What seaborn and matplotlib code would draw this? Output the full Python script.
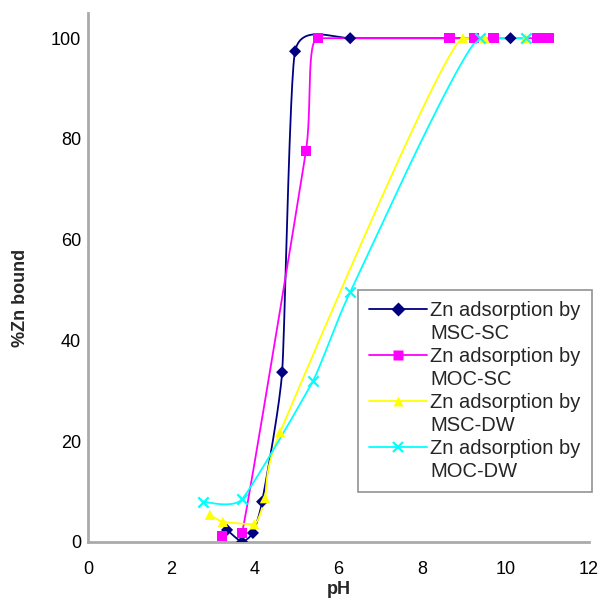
import numpy as np
import pandas as pd
import matplotlib
matplotlib.use("Agg")
import matplotlib.pyplot as plt
import seaborn as sns
from matplotlib.lines import Line2D

# --- Data ---
msc_sc_ph = [3.33, 3.69, 3.95, 4.17, 4.65, 4.96, 6.28, 10.12]
msc_sc_zn = [2.4, 0.0, 1.8, 8.0, 33.7, 97.4, 100, 100]

moc_sc_ph = [3.21, 3.69, 5.22, 5.51, 8.66, 9.25, 9.71, 10.77, 11.03]
moc_sc_zn = [1.2, 1.8, 77.6, 100, 100, 100, 100, 100, 100]

msc_dw_ph = [2.92, 3.23, 3.98, 4.24, 4.60, 8.98, 9.50, 10.48]
msc_dw_zn = [5.4, 4.0, 3.5, 8.7, 21.8, 100, 100, 100]

moc_dw_ph = [2.75, 3.69, 5.39, 6.28, 9.39, 10.50]
moc_dw_zn = [8.0, 8.5, 32.0, 49.6, 100, 100]

labels = ["Zn adsorption by\nMSC-SC", "Zn adsorption by\nMOC-SC",
          "Zn adsorption by\nMSC-DW", "Zn adsorption by\nMOC-DW"]
colors = ["#000080", "#FF00FF", "#FFFF00", "#00FFFF"]
markers = ["D", "s", "^", "x"]
sizes = [38, 55, 55, 55]


def smooth(x, y, k=0.25, n=30):
    # cubic Hermite path through the points, soft tangents, no overshoot at plateaus
    p = np.column_stack([x, y]).astype(float)
    m = np.zeros_like(p)
    m[1:-1] = k * (p[2:] - p[:-2])
    m[0] = k * (p[1] - p[0])
    m[-1] = k * (p[-1] - p[-2])
    d = np.diff(p[:, 1])
    for i in range(1, len(p) - 1):
        if d[i - 1] * d[i] <= 0:
            m[i, 1] = 0.0
    t = np.linspace(0, 1, n)[:, None]
    h00 = 2 * t ** 3 - 3 * t ** 2 + 1
    h10 = t ** 3 - 2 * t ** 2 + t
    h01 = -2 * t ** 3 + 3 * t ** 2
    h11 = t ** 3 - t ** 2
    out = [h00 * p[i] + h10 * m[i] + h01 * p[i + 1] + h11 * m[i + 1]
           for i in range(len(p) - 1)]
    out = np.vstack(out)
    return out[:, 0], out[:, 1]


series = [(msc_sc_ph, msc_sc_zn), (moc_sc_ph, moc_sc_zn),
          (msc_dw_ph, msc_dw_zn), (moc_dw_ph, moc_dw_zn)]

sns.set_theme(style="white")
plt.rcParams["font.family"] = ["Liberation Sans", "DejaVu Sans"]

fig = plt.figure(figsize=(6.1, 6.01), dpi=100)
ax = fig.add_axes([88 / 610, 1 - 542 / 601, (589 - 88) / 610, (542 - 13) / 601])

for (xs, ys), c, m, s in zip(series, colors, markers, sizes):
    sx, sy = smooth(xs, ys)
    sns.lineplot(x=sx, y=sy, sort=False, estimator=None, color=c, lw=1.3, ax=ax)
    df = pd.DataFrame({"pH": xs, "Zn": ys})
    if m == "x":
        sns.scatterplot(data=df, x="pH", y="Zn", marker=m, s=s, color=c,
                        linewidth=1.6, ax=ax, zorder=3)
    else:
        sns.scatterplot(data=df, x="pH", y="Zn", marker=m, s=s, color=c,
                        edgecolor="none", ax=ax, zorder=3)

ax.set_xlim(0, 12)
ax.set_ylim(0, 105)
ax.set_xticks(range(0, 13, 2))
ax.set_yticks(range(0, 101, 20))
ax.tick_params(axis="both", labelsize=13, colors="#999999", labelcolor="black",
               length=4, width=1.2, direction="out")
ax.tick_params(axis="x", pad=10)
ax.tick_params(axis="y", pad=1)
for side in ["top", "right"]:
    ax.spines[side].set_visible(False)
for side in ["left", "bottom"]:
    ax.spines[side].set_color("#aaaaaa")
    ax.spines[side].set_linewidth(2)

ax.set_xlabel("pH", fontsize=13, fontweight="bold", labelpad=2)
ax.set_ylabel("%Zn bound", fontsize=13, fontweight="bold")
ax.yaxis.set_label_coords(-0.118, 0.461)

# legend: handle sits on the first line of each two-line label
handles, texts = [], []
for lab, c, m in zip(labels, colors, markers):
    top, bottom = lab.split("\n")
    if m == "x":
        h = Line2D([], [], color=c, marker=m, markersize=7, mew=1.6, lw=1.3)
    else:
        h = Line2D([], [], color=c, marker=m, markersize=7, mec="none", lw=1.3)
    handles += [h, Line2D([], [], color="none")]
    texts += [top, bottom]
leg = ax.legend(handles, texts, loc="upper left",
                bbox_to_anchor=(358 / 610, 1 - 290 / 601), bbox_transform=fig.transFigure,
                borderaxespad=0, fontsize=14.5, frameon=True, fancybox=False,
                labelspacing=0.2, handlelength=2.9, handletextpad=0.15,
                borderpad=0.55)
leg.get_frame().set_edgecolor("#777777")
leg.get_frame().set_linewidth(1.2)

fig.savefig("out.png", dpi=100)
